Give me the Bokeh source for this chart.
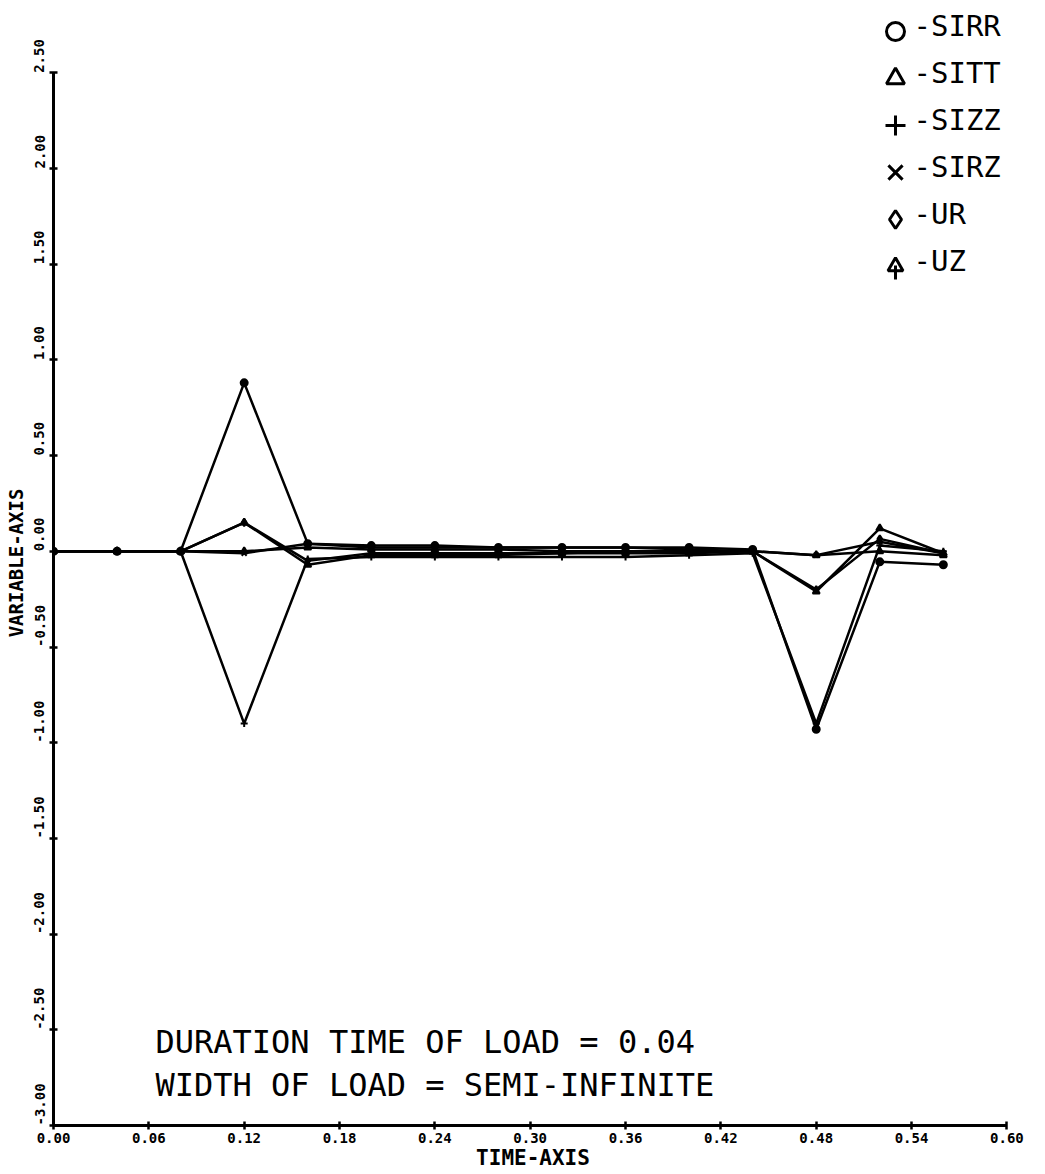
import math
from bokeh.plotting import figure
from bokeh.models import Range1d, FixedTicker, NumeralTickFormatter, ColumnDataSource
from bokeh.core.properties import value
from bokeh.embed import file_html
from bokeh.resources import INLINE

# ---------------- data ----------------
time = [0.00, 0.04, 0.08, 0.12, 0.16, 0.20, 0.24, 0.28, 0.32, 0.36, 0.40, 0.44, 0.48, 0.52, 0.56]
SIRR = [0.00, 0.00, 0.00, 0.88, 0.04, 0.03, 0.03, 0.02, 0.02, 0.02, 0.02, 0.01, -0.93, -0.055, -0.07]
SITT = [0.00, 0.00, 0.00, 0.15, -0.07, -0.02, -0.02, -0.02, -0.01, -0.01, -0.01, 0.00, -0.21, 0.12, -0.01]
SIZZ = [0.00, 0.00, 0.00, -0.90, -0.04, -0.03, -0.03, -0.03, -0.03, -0.03, -0.02, -0.01, -0.90, 0.03, 0.00]
SIRZ = [0.00, 0.00, 0.00, -0.01, 0.04, 0.02, 0.02, 0.02, 0.02, 0.02, 0.01, 0.00, -0.02, 0.05, -0.01]
UR = [0.00, 0.00, 0.00, 0.15, -0.05, -0.01, -0.01, -0.01, -0.01, 0.00, 0.00, 0.00, -0.20, 0.065, -0.01]
UZ = [0.00, 0.00, 0.00, 0.00, 0.02, 0.01, 0.01, 0.01, 0.00, 0.00, 0.00, 0.00, -0.02, 0.00, -0.02]

series_names = ["SIRR", "SITT", "SIZZ", "SIRZ", "UR", "UZ"]
series_values = [SIRR, SITT, SIZZ, SIRZ, UR, UZ]
series_markers = ["circle", "triangle", "cross", "x", "diamond", "triangle"]

x_ticks = [0.00, 0.06, 0.12, 0.18, 0.24, 0.30, 0.36, 0.42, 0.48, 0.54, 0.60]
y_ticks = [-3.00, -2.50, -2.00, -1.50, -1.00, -0.50, 0.00, 0.50, 1.00, 1.50, 2.00, 2.50]
x_title = "TIME-AXIS"
y_title = "VARIABLE-AXIS"
note_lines = ["DURATION TIME OF LOAD = 0.04", "WIDTH OF LOAD = SEMI-INFINITE"]

# ---------------- layout ----------------
W, H = 1045, 1174
B_LEFT, B_RIGHT, B_TOP, B_BOTTOM = 53, 33, 0, 49
FW = W - B_LEFT - B_RIGHT
FH = H - B_TOP - B_BOTTOM
PX_PER_X = 1589.0
PX_PER_Y = 191.4
X_END = FW / PX_PER_X
Y_START = -3.0
Y_END = Y_START + FH / PX_PER_Y


def fx(px):
    return (px - B_LEFT) / PX_PER_X


def fy(py):
    return Y_END - (py - B_TOP) / PX_PER_Y


MONO = "DejaVu Sans Mono"
NBSP = "\u00a0"

p = figure(width=W, height=H,
           x_range=Range1d(0, X_END), y_range=Range1d(Y_START, Y_END),
           output_backend="svg", toolbar_location=None,
           min_border_left=B_LEFT, min_border_right=B_RIGHT,
           min_border_top=B_TOP, min_border_bottom=B_BOTTOM,
           background_fill_color="white", border_fill_color="white",
           outline_line_color=None)
p.grid.visible = False

# axes
for ax in (p.xaxis[0], p.yaxis[0]):
    ax.axis_line_width = 3
    ax.axis_line_color = "black"
    ax.major_tick_line_width = 2.5
    ax.major_tick_line_color = "black"
    ax.major_tick_in = 4
    ax.major_tick_out = 4
    ax.minor_tick_line_color = None
    ax.major_label_text_font = MONO
    ax.major_label_text_font_style = "bold"
    ax.major_label_text_font_size = "14px"
    ax.major_label_text_color = "black"
    ax.axis_label_text_font = MONO
    ax.axis_label_text_font_style = "bold"
    ax.axis_label_text_color = "black"
    ax.formatter = NumeralTickFormatter(format="0.00")

p.xaxis.bounds = (x_ticks[0], x_ticks[-1])
p.yaxis.bounds = (y_ticks[0], y_ticks[-1])
p.xaxis.ticker = FixedTicker(ticks=x_ticks, minor_ticks=[])
p.yaxis.ticker = FixedTicker(ticks=y_ticks, minor_ticks=[])
p.xaxis.major_label_standoff = 3
p.yaxis.major_label_standoff = 2
p.yaxis.major_label_orientation = "vertical"
# plotter labels start at the tick and run upward: pad the lower half
p.yaxis.major_label_overrides = {
    t: NBSP * len(f"{t:.2f}") + f"{t:.2f}" for t in y_ticks
}
p.xaxis.axis_label = x_title
p.yaxis.axis_label = y_title
p.xaxis.axis_label_text_font_size = "21px"
p.yaxis.axis_label_text_font_size = "19px"
p.xaxis.axis_label_standoff = 0
p.yaxis.axis_label_standoff = 2

# series
for name, vals, mk in zip(series_names, series_values, series_markers):
    src = ColumnDataSource(dict(t=time, v=vals))
    p.line("t", "v", source=src, line_color="black", line_width=2.5)
    p.scatter("t", "v", source=src, marker=mk, size=7, line_color="black",
              fill_color="black", line_width=2)

# legend (drawn at the top right like the plotter key)
leg_x_marker, leg_x_text = 895, 913
leg_row0, leg_step, leg_marker_drop = 25, 47, 6
leg_sizes = [18, 18, 20, 20, 18, 15]
leg = ColumnDataSource(dict(
    mx=[fx(leg_x_marker)] * len(series_names),
    my=[fy(leg_row0 + leg_step * i + leg_marker_drop) for i in range(len(series_names))],
    tx=[fx(leg_x_text)] * len(series_names),
    ty=[fy(leg_row0 + leg_step * i) for i in range(len(series_names))],
    marker=series_markers,
    size=leg_sizes,
    label=["-" + n for n in series_names],
))
p.scatter("mx", "my", source=leg, marker="marker", size="size", line_color="black",
          fill_color=None, line_width=3)
# stem of the UZ arrow symbol
i_uz = series_names.index("UZ")
p.scatter([fx(leg_x_marker)], [fy(leg_row0 + leg_step * i_uz + leg_marker_drop + 6)],
          marker="dash", angle=math.pi / 2, size=14, line_color="black", line_width=3)
p.text("tx", "ty", text="label", source=leg, text_font=value(MONO), text_font_size="29px",
       text_baseline="middle", text_align="left", text_color="black")

# notes
p.text(x=[fx(155)] * 2, y=[fy(1041), fy(1084)], text=note_lines,
       text_font=value(MONO), text_font_size="32px",
       text_baseline="middle", text_align="left", text_color="black")

open("out.html", "w").write(file_html(p, INLINE))
